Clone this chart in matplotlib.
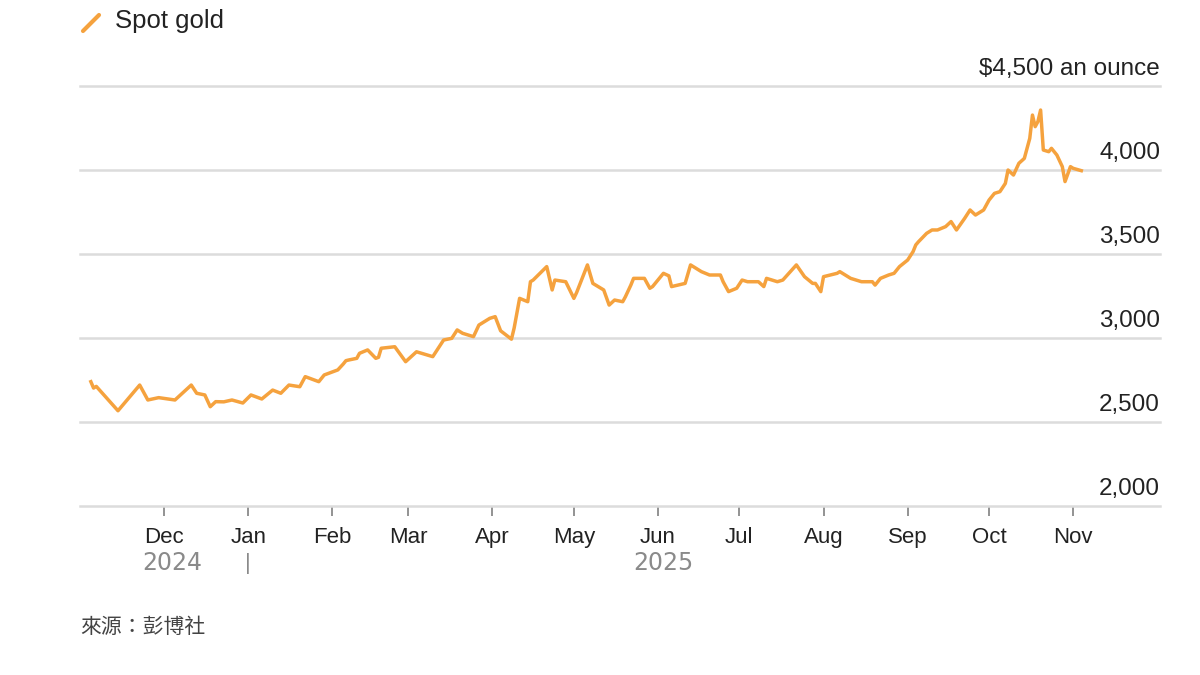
import numpy as np
import pandas as pd
import matplotlib
matplotlib.use("Agg")
import matplotlib.pyplot as plt
import matplotlib.dates as mdates
import matplotlib.transforms as mtrans

# spot gold, USD per ounce
dates = [
    "2024-11-04", "2024-11-05", "2024-11-06", "2024-11-14", "2024-11-22", "2024-11-25",
    "2024-11-29", "2024-12-05", "2024-12-11", "2024-12-13", "2024-12-16", "2024-12-18",
    "2024-12-20", "2024-12-23", "2024-12-26", "2024-12-30", "2025-01-02", "2025-01-06",
    "2025-01-10", "2025-01-13", "2025-01-16", "2025-01-20", "2025-01-22", "2025-01-27",
    "2025-01-29", "2025-02-03", "2025-02-05", "2025-02-06", "2025-02-07", "2025-02-10",
    "2025-02-11", "2025-02-14", "2025-02-17", "2025-02-18", "2025-02-19", "2025-02-24",
    "2025-02-28", "2025-03-04", "2025-03-10", "2025-03-14", "2025-03-17", "2025-03-19",
    "2025-03-21", "2025-03-25", "2025-03-27", "2025-03-31", "2025-04-02", "2025-04-04",
    "2025-04-08", "2025-04-09", "2025-04-11", "2025-04-14", "2025-04-15", "2025-04-16",
    "2025-04-21", "2025-04-23", "2025-04-24", "2025-04-28", "2025-05-01", "2025-05-02",
    "2025-05-06", "2025-05-08", "2025-05-12", "2025-05-14", "2025-05-16", "2025-05-19",
    "2025-05-20", "2025-05-22", "2025-05-23", "2025-05-27", "2025-05-29", "2025-05-30",
    "2025-06-03", "2025-06-05", "2025-06-06", "2025-06-11", "2025-06-13", "2025-06-17",
    "2025-06-20", "2025-06-24", "2025-06-25", "2025-06-27", "2025-06-30", "2025-07-02",
    "2025-07-04", "2025-07-08", "2025-07-10", "2025-07-11", "2025-07-15", "2025-07-17",
    "2025-07-22", "2025-07-25", "2025-07-28", "2025-07-29", "2025-07-31", "2025-08-01",
    "2025-08-06", "2025-08-07", "2025-08-11", "2025-08-13", "2025-08-15", "2025-08-19",
    "2025-08-20", "2025-08-22", "2025-08-25", "2025-08-27", "2025-08-29", "2025-09-01",
    "2025-09-03", "2025-09-04", "2025-09-05", "2025-09-08", "2025-09-10", "2025-09-12",
    "2025-09-15", "2025-09-17", "2025-09-19", "2025-09-22", "2025-09-24", "2025-09-26",
    "2025-09-29", "2025-10-01", "2025-10-03", "2025-10-05", "2025-10-07", "2025-10-08",
    "2025-10-10", "2025-10-12", "2025-10-14", "2025-10-15", "2025-10-16", "2025-10-17",
    "2025-10-18", "2025-10-19", "2025-10-20", "2025-10-21", "2025-10-23", "2025-10-24",
    "2025-10-26", "2025-10-28", "2025-10-29", "2025-10-31", "2025-11-01", "2025-11-04",
]
prices = [
    2740, 2702, 2712, 2567, 2720, 2631,
    2645, 2631, 2720, 2671, 2661, 2591,
    2621, 2620, 2631, 2613, 2661, 2637,
    2690, 2671, 2720, 2710, 2770, 2740,
    2780, 2810, 2845, 2865, 2869, 2879,
    2909, 2929, 2879, 2885, 2939, 2948,
    2859, 2918, 2889, 2988, 2998, 3048,
    3028, 3008, 3077, 3117, 3127, 3043,
    2993, 3060, 3236, 3216, 3335, 3345,
    3425, 3286, 3345, 3335, 3236, 3270,
    3435, 3325, 3286, 3196, 3226, 3216,
    3246, 3315, 3355, 3355, 3296, 3306,
    3385, 3370, 3306, 3325, 3435, 3395,
    3375, 3375, 3335, 3276, 3296, 3345,
    3335, 3335, 3306, 3355, 3335, 3345,
    3435, 3365, 3325, 3325, 3276, 3365,
    3385, 3395, 3355, 3345, 3335, 3335,
    3315, 3355, 3375, 3385, 3425, 3464,
    3514, 3554, 3573, 3623, 3643, 3643,
    3663, 3693, 3643, 3712, 3762, 3732,
    3762, 3821, 3861, 3871, 3920, 4000,
    3970, 4040, 4069, 4129, 4188, 4327,
    4258, 4288, 4357, 4119, 4109, 4129,
    4089, 4020, 3931, 4020, 4010, 3996,
]
y_ticks = [2000, 2500, 3000, 3500, 4000, 4500]
y_labels = ["2,000", "2,500", "3,000", "3,500", "4,000", "$4,500 an ounce"]
years = [("2024-12-04", "2024"), ("2025-06-03", "2025")]

orange = "#F5A23E"
dark = "#222222"
grey = "#8a8a8a"

plt.rcParams["font.family"] = ["Liberation Sans", "Noto Sans CJK TC", "DejaVu Sans"]

x = pd.to_datetime(dates)

fig = plt.figure(figsize=(12, 6.75), dpi=100)
ax = fig.add_axes([80 / 1200, 1 - 506 / 675, 1080 / 1200, 420 / 675])

ax.plot(x, prices, color=orange, lw=2.5, solid_joinstyle="round", zorder=3)

ax.set_ylim(2000, 4500)
ax.set_xlim(pd.Timestamp("2024-10-31"), pd.Timestamp("2025-12-03"))
ax.set_yticks(y_ticks)
ax.yaxis.grid(True, color="#dcdcdc", lw=1.8)
for gl in ax.yaxis.get_gridlines():
    gl.set_clip_on(False)
ax.tick_params(axis="y", left=False, labelleft=False)
for s in ax.spines.values():
    s.set_visible(False)

for v, lab in zip(y_ticks, y_labels):
    ax.annotate(lab, xy=(1, v), xycoords=("axes fraction", "data"),
                xytext=(0, 4), textcoords="offset points",
                ha="right", va="bottom", fontsize=17.5, color=dark)

ax.set_xticks(pd.date_range("2024-12-01", "2025-11-01", freq="MS"))
ax.xaxis.set_major_formatter(mdates.DateFormatter("%b"))
ax.tick_params(axis="x", length=7, width=1.3, color=grey, pad=8,
               labelsize=16, labelcolor=dark)

trans = mtrans.blended_transform_factory(ax.transData, ax.transAxes)
for d, y in years:
    ax.text(pd.Timestamp(d), -0.136, y, transform=trans, ha="center", va="center",
            fontsize=17, color=grey, family=["DejaVu Sans"])
ax.text(pd.Timestamp("2025-01-01"), -0.136, "|", transform=trans, ha="center",
        va="center", fontsize=16, color=grey)

# legend
fig.lines.append(plt.Line2D([83 / 1200, 99 / 1200], [1 - 31 / 675, 1 - 15 / 675],
                            transform=fig.transFigure, color=orange, lw=3,
                            solid_capstyle="round"))
fig.text(115 / 1200, 1 - 21 / 675, "Spot gold", fontsize=18.5, color=dark, va="center")

fig.text(80 / 1200, 1 - 627 / 675, "來源：彭博社", fontsize=15, color="#444444",
         va="center", family=["Noto Sans CJK TC"])

fig.savefig("out.png", dpi=100, facecolor="white")
